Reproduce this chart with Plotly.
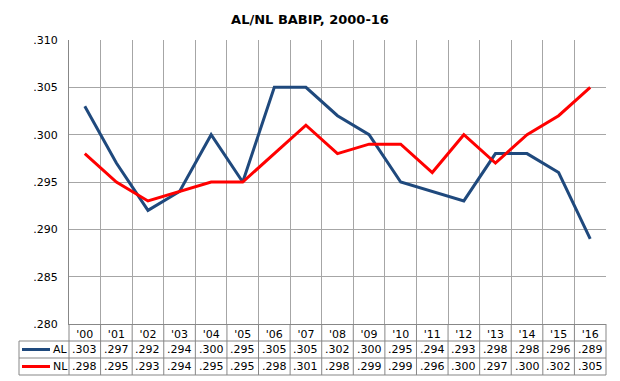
import plotly.graph_objects as go

years = ["'00", "'01", "'02", "'03", "'04", "'05", "'06", "'07", "'08",
         "'09", "'10", "'11", "'12", "'13", "'14", "'15", "'16"]
al = [.303, .297, .292, .294, .300, .295, .305, .305, .302, .300, .295, .294,
      .293, .298, .298, .296, .289]
nl = [.298, .295, .293, .294, .295, .295, .298, .301, .298, .299, .299, .296,
      .300, .297, .300, .302, .305]
series = [("AL", al, "#1F497D"), ("NL", nl, "#FF0000")]
yticks = [.280, .285, .290, .295, .300, .305, .310]

W, H = 620, 381
L, R, T, B = 69, 14, 40, 57
pw, ph = W - L - R, H - T - B
bottom_px = H - B


def px_x(px):
    return (px - L) / pw


def px_y(py):
    return (bottom_px - py) / ph


def fmt(v):
    return f"{v:.3f}".lstrip("0")


FONT = "DejaVu Sans"
FS = 11
GRID = "#A6A6A6"
BORDER = "#878787"

fig = go.Figure()
for name, vals, col in series:
    fig.add_trace(go.Scatter(x=years, y=vals, mode="lines", name=name,
                             line=dict(color=col, width=3), showlegend=False,
                             hoverinfo="skip"))

row_h = 17
rows_top = [bottom_px + row_h * (k + 1) for k in range(len(series))]
table_bottom = bottom_px + row_h * (len(series) + 1)
legend_left = 19

shapes = []
for py in rows_top + [table_bottom]:
    shapes.append(dict(type="line", xref="paper", yref="paper",
                       x0=px_x(legend_left), x1=1, y0=px_y(py), y1=px_y(py),
                       line=dict(color=BORDER, width=1)))
n = len(years)
for i in range(n + 1):
    shapes.append(dict(type="line", xref="paper", yref="paper",
                       x0=i / n, x1=i / n, y0=0, y1=px_y(table_bottom),
                       line=dict(color=BORDER, width=1)))
shapes.append(dict(type="line", xref="paper", yref="paper",
                   x0=px_x(legend_left), x1=px_x(legend_left),
                   y0=px_y(rows_top[0]), y1=px_y(table_bottom),
                   line=dict(color=BORDER, width=1)))

annotations = []
for k, (name, vals, col) in enumerate(series):
    yc = px_y(rows_top[k] + row_h / 2)
    shapes.append(dict(type="line", xref="paper", yref="paper",
                       x0=px_x(22), x1=px_x(50), y0=yc, y1=yc,
                       line=dict(color=col, width=3)))
    annotations.append(dict(xref="paper", yref="paper", x=px_x(51), y=yc,
                            text=name, showarrow=False, xanchor="left",
                            yanchor="middle",
                            font=dict(family=FONT, size=FS, color="#000")))
    for i, v in enumerate(vals):
        annotations.append(dict(xref="x", yref="paper", x=i, y=yc, text=fmt(v),
                                showarrow=False, xanchor="center",
                                yanchor="middle",
                                font=dict(family=FONT, size=FS, color="#000")))

fig.update_layout(
    width=W, height=H,
    margin=dict(l=L, r=R, t=T, b=B),
    paper_bgcolor="white", plot_bgcolor="white",
    title=dict(text="<b>AL/NL BABIP, 2000-16</b>", x=0.5, xanchor="center",
               y=1 - 19 / H, yanchor="middle",
               font=dict(family=FONT, size=13, color="#000")),
    xaxis=dict(type="category", categoryorder="array", categoryarray=years,
               range=[-0.5, n - 0.5], tickson="boundaries", showgrid=True,
               gridcolor=GRID, gridwidth=1, ticks="", showline=True,
               linecolor=BORDER, linewidth=1, zeroline=False,
               tickfont=dict(family=FONT, size=FS, color="#000"),
               ticklabelstandoff=0, fixedrange=True),
    yaxis=dict(range=[.280, .310], tickvals=yticks,
               ticktext=[fmt(v) for v in yticks], showgrid=True,
               gridcolor=GRID, gridwidth=1, ticks="", showline=True,
               linecolor=BORDER, linewidth=1, zeroline=False,
               tickfont=dict(family=FONT, size=FS, color="#000"),
               ticklabelstandoff=8, fixedrange=True),
    shapes=shapes,
    annotations=annotations,
)

fig.write_html("out.html", config={"displayModeBar": False},
               post_script="document.body.style.margin='0';")
